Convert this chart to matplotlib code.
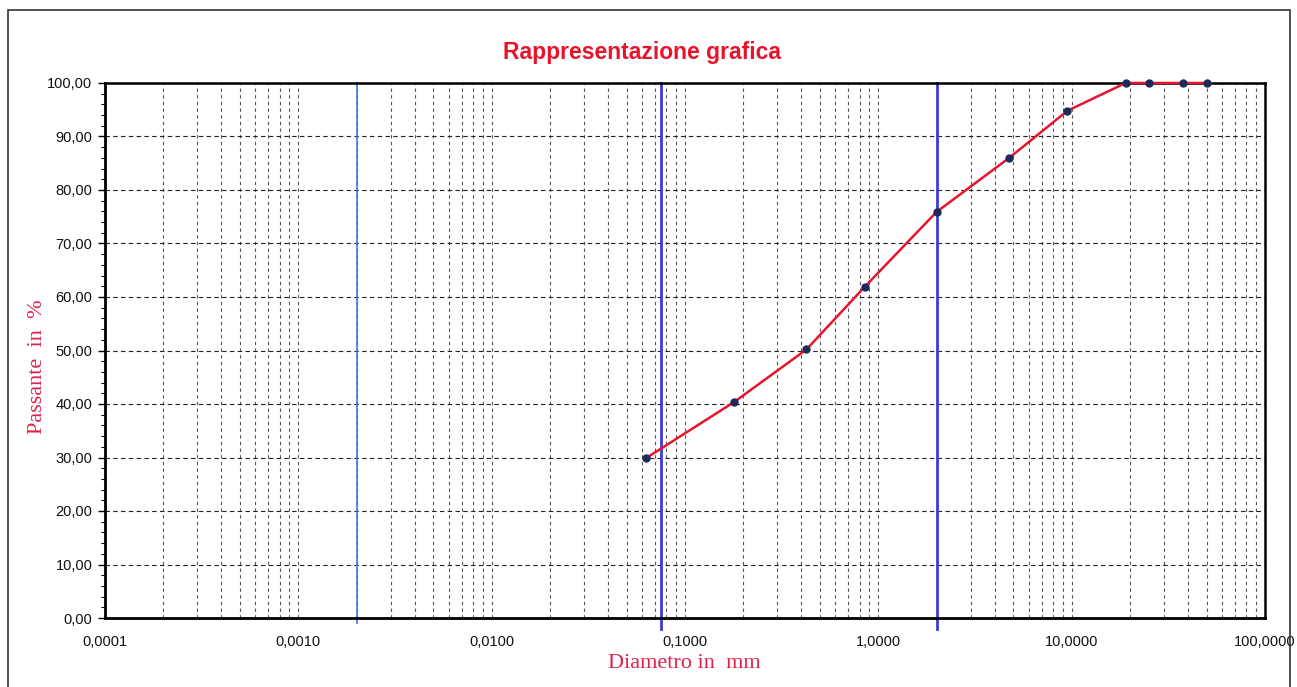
import matplotlib
matplotlib.use("Agg")
import matplotlib.pyplot as plt
from matplotlib.ticker import FixedLocator, FuncFormatter, LogLocator, MultipleLocator
from matplotlib.patches import Rectangle

# Data
diametro_mm = [0.063, 0.18, 0.425, 0.85, 2.0, 4.75, 9.5, 19.0, 25.0, 37.5, 50.0]
passante_pct = [29.9, 40.4, 50.2, 61.9, 75.9, 86.0, 94.8, 100.0, 100.0, 100.0, 100.0]
limiti_classi = [0.002, 0.075, 2.0]
x_ticks = [0.0001, 0.001, 0.01, 0.1, 1, 10, 100]
y_ticks = [0, 10, 20, 30, 40, 50, 60, 70, 80, 90, 100]

red = "#e8142c"
label_red = "#e0204a"

fig = plt.figure(figsize=(12.97, 6.87), dpi=100)
fig.patch.set_facecolor("white")
# outer frame
fig.patches.append(Rectangle((8/1297, -0.05), (1290-8)/1297, 1 - 10/687 + 0.05,
                             transform=fig.transFigure, fill=False,
                             edgecolor="#333333", linewidth=1.2))

ax = fig.add_axes([105/1297, 1 - 618/687, (1265-105)/1297, (618-83)/687])
ax.set_xscale("log")
ax.set_xlim(0.0001, 100)
ax.set_ylim(0, 100)

# grid
ax.xaxis.set_major_locator(FixedLocator(x_ticks))
ax.xaxis.set_minor_locator(LogLocator(base=10, subs=range(2, 10), numticks=50))
ax.yaxis.set_major_locator(FixedLocator(y_ticks))
ax.yaxis.set_minor_locator(MultipleLocator(2))
ax.grid(which="both", axis="x", linestyle=(0, (3, 3)), color="#555555", linewidth=0.8)
ax.grid(which="major", axis="y", linestyle=(0, (4, 3)), color="#222222", linewidth=0.8)

# boundary lines
ax.axvline(limiti_classi[0], color="#3a7bd5", linewidth=1.2, ymin=-0.01, clip_on=False)
for xv in limiti_classi[1:]:
    ax.axvline(xv, color="#3b3bd9", linewidth=2.0, ymin=-0.02, clip_on=False)

ax.plot(diametro_mm, passante_pct, color=red, linewidth=1.8, zorder=4, clip_on=False)
ax.plot(diametro_mm, passante_pct, linestyle="none", marker="o", markersize=5,
        markerfacecolor="#1c2a5a", markeredgecolor="#1c2a5a", zorder=5, clip_on=False)

for side in ["left", "bottom", "top", "right"]:
    ax.spines[side].set_color("black")
ax.spines["left"].set_linewidth(2.0)
ax.spines["bottom"].set_linewidth(2.0)
ax.spines["top"].set_linewidth(1.8)
ax.spines["right"].set_linewidth(1.8)

ax.xaxis.set_major_formatter(FuncFormatter(lambda v, p: f"{v:.4f}".replace(".", ",")))
ax.xaxis.set_minor_formatter(FuncFormatter(lambda v, p: ""))
ax.yaxis.set_major_formatter(FuncFormatter(lambda v, p: f"{v:.2f}".replace(".", ",")))
ax.tick_params(axis="x", which="both", length=0, pad=12, labelsize=10.5)
ax.tick_params(axis="y", which="major", length=5, width=1, pad=4, labelsize=10.5, direction="out")
ax.tick_params(axis="y", which="minor", length=3, width=0.8, direction="out")
for lab in ax.get_xticklabels() + ax.get_yticklabels():
    lab.set_fontfamily("Liberation Sans")
    lab.set_color("#111111")

ax.set_xlabel("Diametro in  mm", fontfamily="Liberation Serif", fontsize=16,
              color=label_red)
ax.xaxis.set_label_coords((684 - 105) / 1160, -(664 - 618) / 535)
ax.set_ylabel("Passante  in  %", fontfamily="Liberation Serif", fontsize=16,
              color=label_red)
ax.yaxis.set_label_coords((38 - 105) / 1160, (618 - 367) / 535)
ax.xaxis.label.set_va("center")
ax.yaxis.label.set_va("center")

fig.text(642/1297, 1 - 52/687, "Rappresentazione grafica", ha="center", va="center",
         fontfamily="Liberation Sans", fontweight="bold", fontsize=16.5, color=red)

fig.savefig("out.png", dpi=100)
